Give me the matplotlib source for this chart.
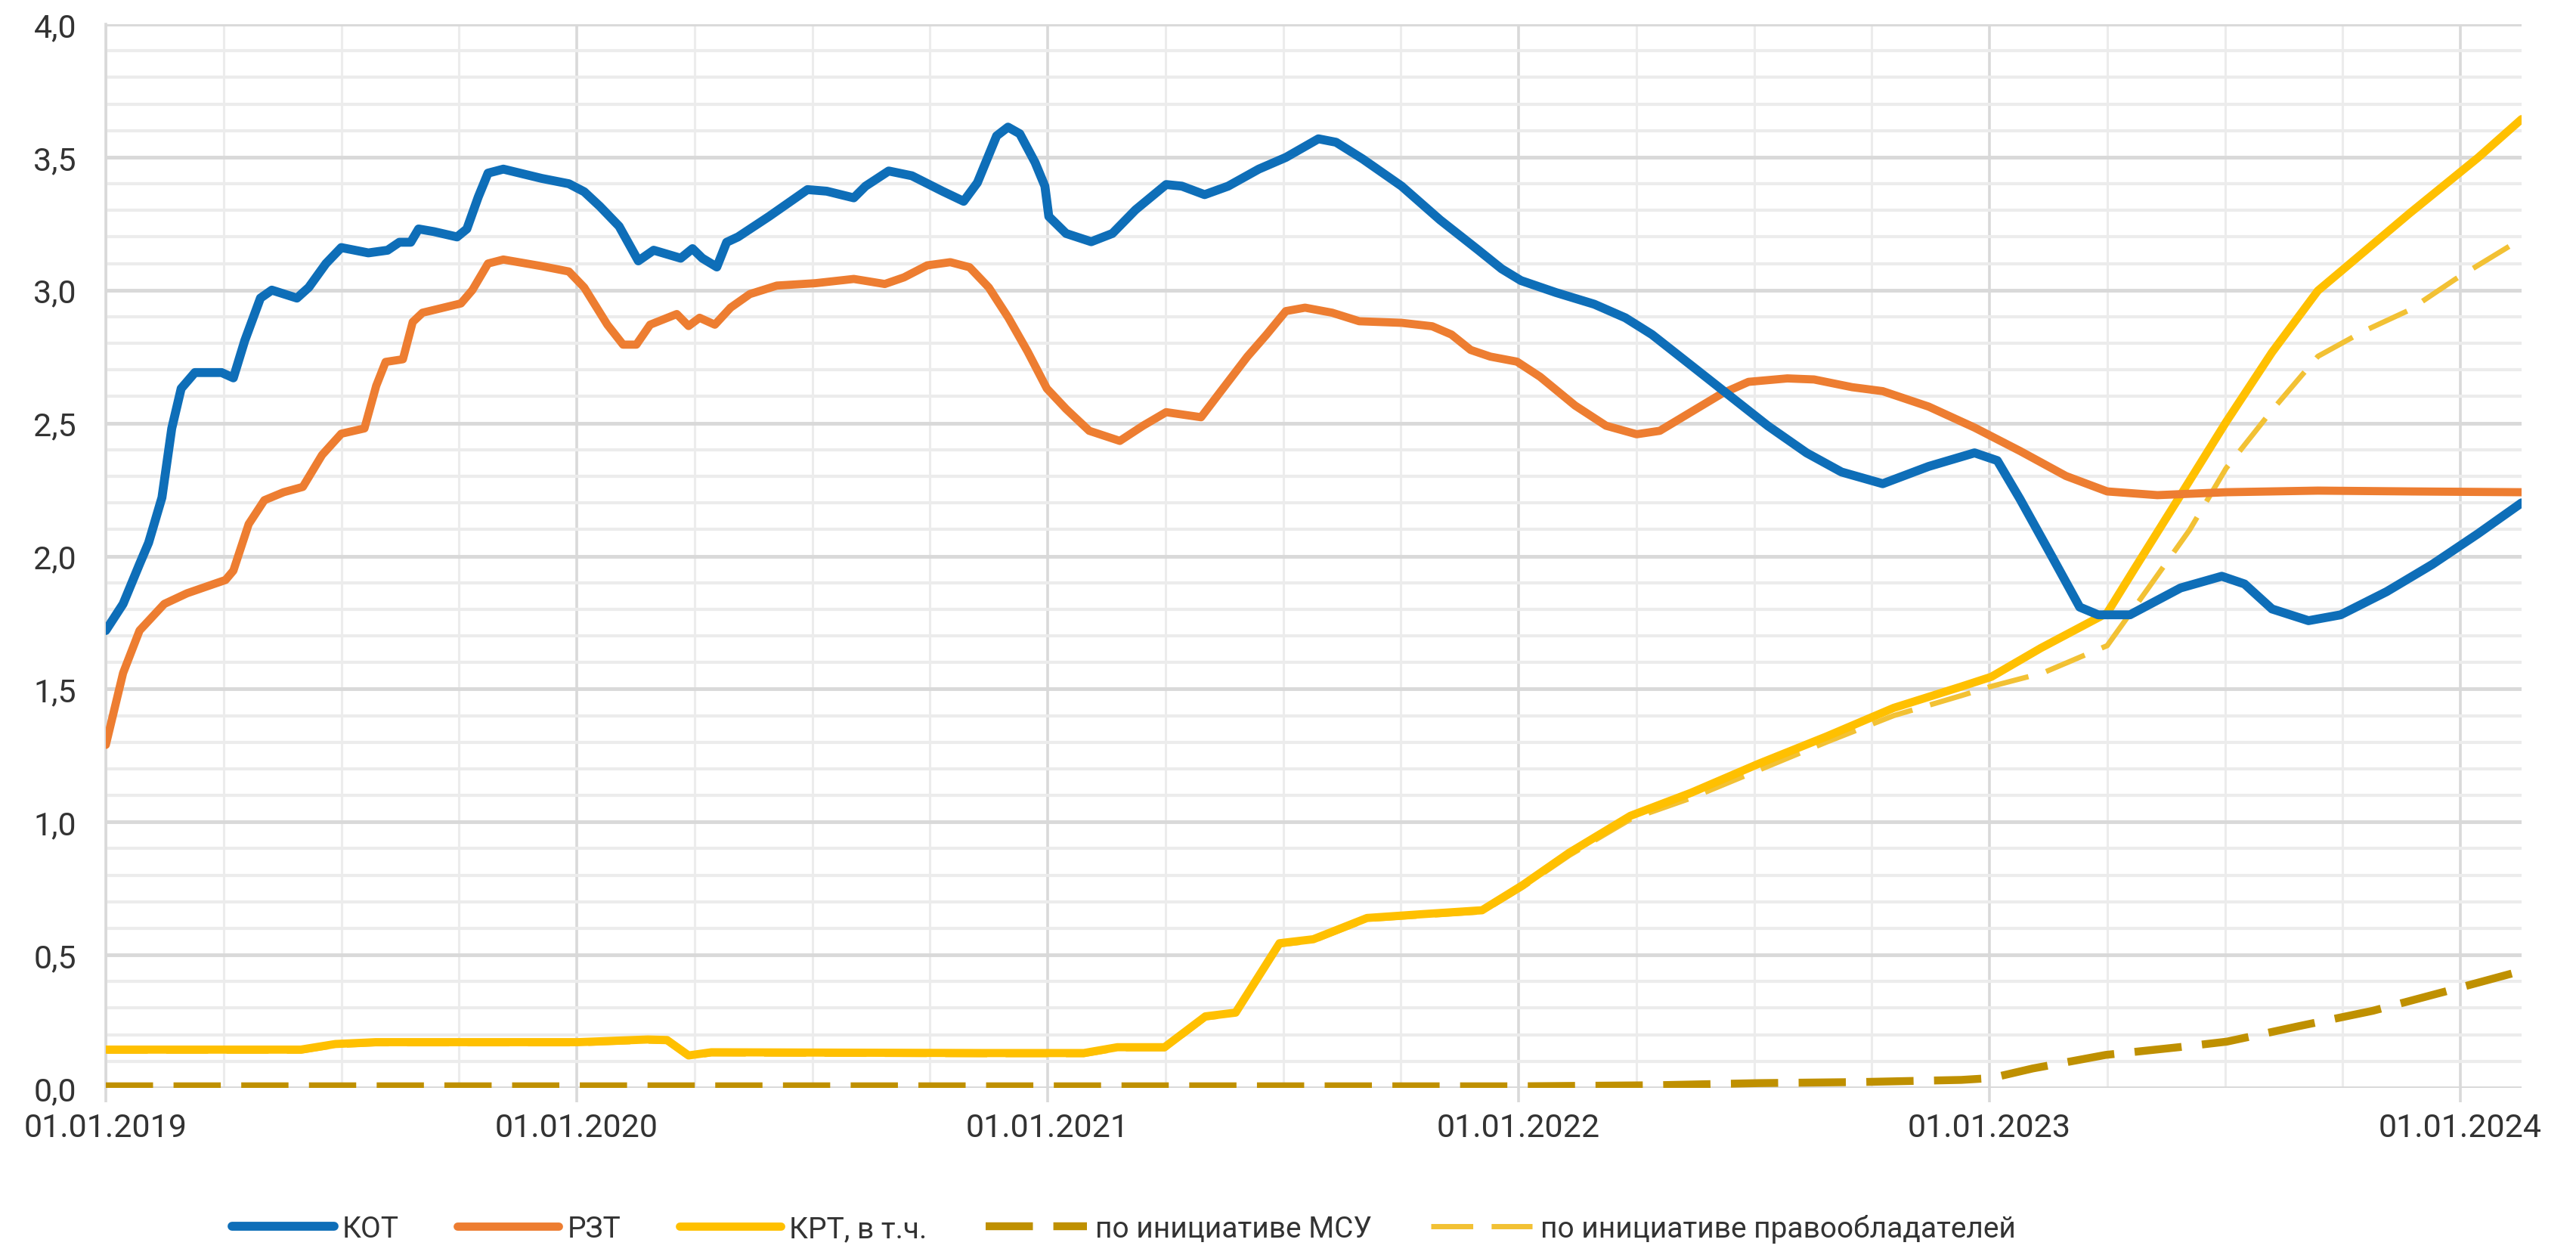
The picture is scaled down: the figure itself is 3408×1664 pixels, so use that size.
import numpy as np
import matplotlib.pyplot as plt
from matplotlib.ticker import FixedLocator, FuncFormatter, MultipleLocator

# months since 01.01.2019 and values
kot_m = [0, 0.44, 0.86, 1.09, 1.43, 1.68, 1.92, 2.27, 2.95, 3.25, 3.54, 3.94, 4.23, 4.87, 5.17,
         5.61, 6.0, 6.69, 7.18, 7.48, 7.77, 7.97, 8.36, 8.95, 9.2, 9.49, 9.74, 10.13, 11.11, 11.8,
         12.19, 12.59, 13.08, 13.57, 13.96, 14.65, 14.95, 15.2, 15.57, 15.82, 16.11, 16.9, 17.88,
         18.37, 19.06, 19.36, 19.95, 20.54, 21.32, 21.86, 22.21, 22.7, 22.99, 23.29, 23.68, 23.93,
         24.03, 24.47, 25.11, 25.65, 26.24, 27.02, 27.42, 28.0, 28.6, 29.38, 30.07, 30.9, 31.35,
         32.03, 33.02, 34.0, 34.98, 35.57, 36.06, 36.95, 37.93, 38.72, 39.4, 40.39, 41.37, 42.35,
         43.34, 44.23, 45.28, 46.45, 47.62, 48.2, 48.78, 49.6, 50.3, 50.77, 51.58, 52.87, 53.92,
         54.5, 55.2, 56.13, 56.95, 58.12, 59.28, 60.45, 61.56]
kot = [1.72, 1.82, 1.97, 2.05, 2.22, 2.48, 2.63, 2.69, 2.69, 2.67, 2.81, 2.97, 3.0, 2.97, 3.01,
       3.10, 3.16, 3.14, 3.15, 3.18, 3.18, 3.23, 3.22, 3.20, 3.23, 3.35, 3.44, 3.455, 3.42, 3.40,
       3.37, 3.315, 3.24, 3.11, 3.15, 3.12, 3.156, 3.12, 3.087, 3.18, 3.20, 3.277, 3.378,
       3.372, 3.347, 3.391, 3.448, 3.43, 3.372, 3.334, 3.404, 3.58, 3.613, 3.588, 3.48, 3.391,
       3.277, 3.213, 3.182, 3.213, 3.302, 3.397, 3.391, 3.359, 3.391, 3.455, 3.499, 3.569, 3.556,
       3.493, 3.391, 3.264, 3.15, 3.08, 3.036, 2.991, 2.947, 2.896, 2.833, 2.718, 2.604, 2.49,
       2.388, 2.316, 2.272, 2.337, 2.388, 2.359, 2.214, 1.996, 1.808, 1.779, 1.779, 1.88, 1.924,
       1.895, 1.801, 1.757, 1.779, 1.866, 1.968, 2.084, 2.20]

rzt_m = [0, 0.44, 0.86, 1.49, 2.07, 3.05, 3.25, 3.64, 4.04, 4.53, 5.02, 5.51, 6.0, 6.59, 6.89,
         7.13, 7.57, 7.82, 8.07, 9.05, 9.34, 9.74, 10.13, 11.11, 11.8, 12.19, 12.78, 13.18, 13.52,
         13.87, 14.55, 14.85, 15.13, 15.52, 15.92, 16.41, 17.1, 18.08, 19.06, 19.85, 20.34, 20.93,
         21.52, 22.01, 22.5, 23.0, 23.49, 23.98, 24.47, 25.06, 25.84, 26.43, 27.02, 27.91, 28.4,
         29.09, 29.58, 30.07, 30.56, 31.25, 31.94, 33.02, 33.8, 34.29, 34.78, 35.28, 35.96, 36.55,
         37.44, 38.23, 39.01, 39.6, 40.39, 41.17, 41.86, 42.85, 43.53, 44.5, 45.28, 46.45, 47.62,
         48.78, 49.95, 51.0, 52.28, 54.03, 56.37, 58.7, 61.56]
rzt = [1.29, 1.56, 1.72, 1.82, 1.86, 1.91, 1.945, 2.12, 2.21, 2.24, 2.26, 2.38, 2.46, 2.48, 2.64,
       2.73, 2.74, 2.88, 2.915, 2.95, 3.0, 3.10, 3.115, 3.09, 3.07, 3.01, 2.87, 2.795, 2.795,
       2.87, 2.91, 2.865, 2.896, 2.87, 2.934, 2.985, 3.017, 3.026, 3.042, 3.023, 3.048, 3.093,
       3.105, 3.086, 3.01, 2.896, 2.769, 2.63, 2.553, 2.471, 2.433, 2.49, 2.541, 2.522, 2.617,
       2.75, 2.833, 2.921, 2.934, 2.915, 2.883, 2.877, 2.864, 2.833, 2.775, 2.75, 2.731, 2.674,
       2.566, 2.49, 2.458, 2.471, 2.541, 2.61, 2.655, 2.668, 2.664, 2.635, 2.62, 2.562, 2.483,
       2.395, 2.301, 2.243, 2.229, 2.24, 2.246, 2.243, 2.24]

krt_m = [0, 4.97, 5.85, 6.88, 12.04, 13.81, 14.3, 14.85, 15.43, 22.34, 24.92, 25.78, 26.98, 28.02,
         28.79, 29.91, 30.77, 32.14, 33.52, 35.07, 36.1, 37.3, 38.85, 40.4, 42.12, 43.84, 45.56,
         47.28, 48.05, 49.31, 51.0, 51.7, 52.87, 54.03, 55.2, 56.37, 56.95, 58.7, 60.45, 61.56]
krt = [0.144, 0.144, 0.165, 0.172, 0.172, 0.182, 0.18, 0.122, 0.134, 0.131, 0.131, 0.153, 0.153,
       0.269, 0.283, 0.544, 0.559, 0.639, 0.653, 0.668, 0.762, 0.885, 1.023, 1.11, 1.219, 1.321,
       1.429, 1.509, 1.546, 1.654, 1.786, 1.953, 2.229, 2.504, 2.766, 2.998, 3.07, 3.288, 3.498,
       3.643]

msu_m = [0, 36.0, 39.54, 42.12, 44.7, 47.28, 48.05, 49.1, 50.96, 52.82, 54.05, 55.91, 57.77,
         59.63, 61.56]
msu = [0.006, 0.006, 0.01, 0.018, 0.022, 0.03, 0.037, 0.073, 0.124, 0.153, 0.174, 0.233, 0.29,
       0.363, 0.44]

pravo_m = [0, 4.97, 5.85, 6.88, 12.04, 13.81, 14.3, 14.85, 15.43, 22.34, 24.92, 25.78, 26.98,
           28.02, 28.79, 29.91, 30.77, 32.14, 33.52, 35.07, 36.1, 37.3, 38.85, 40.4, 42.12, 43.84,
           45.56, 47.28, 48.05, 49.37, 50.42, 51.0, 52.05, 53.1, 54.03, 55.2, 56.37, 57.53, 58.7,
           59.87, 61.56]
pravo = [0.138, 0.138, 0.159, 0.166, 0.166, 0.176, 0.174, 0.116, 0.128, 0.125, 0.125, 0.147,
         0.147, 0.263, 0.277, 0.538, 0.553, 0.633, 0.647, 0.662, 0.754, 0.875, 1.01, 1.09, 1.195,
         1.30, 1.40, 1.475, 1.51, 1.561, 1.627, 1.663, 1.88, 2.098, 2.33, 2.548, 2.751, 2.845,
         2.925, 3.041, 3.193]

year_labels = ['01.01.2019', '01.01.2020', '01.01.2021', '01.01.2022', '01.01.2023', '01.01.2024']

plt.rcParams['font.family'] = ['Roboto', 'DejaVu Sans']

fig = plt.figure(figsize=(34.08, 16.65), dpi=100)
ax = fig.add_axes([140 / 3408, 1 - 1440 / 1665, (3336 - 140) / 3408, (1440 - 33) / 1665])

ax.plot(kot_m, kot, color='#0E6EB8', lw=8.5, solid_joinstyle='round', solid_capstyle='round',
        label='КОТ', zorder=5)
ax.plot(rzt_m, rzt, color='#ED7D31', lw=7.8, solid_joinstyle='round', solid_capstyle='round',
        label='РЗТ', zorder=4)
ax.plot(pravo_m, pravo, color='#F2C134', lw=5.0, dashes=(8, 3.5), dash_capstyle='butt',
        label='по инициативе правообладателей', zorder=2)
ax.plot(krt_m, krt, color='#FFC000', lw=7.8, solid_joinstyle='round', solid_capstyle='round',
        label='КРТ, в т.ч.', zorder=3)
ax.plot(msu_m, msu, color='#BF9000', lw=7.5, dashes=(6, 2.6), dash_capstyle='butt',
        label='по инициативе МСУ', zorder=3)

ax.set_xlim(0, 61.56)
ax.set_ylim(0, 4.0)

ax.xaxis.set_major_locator(FixedLocator([0, 12, 24, 36, 48, 60]))
ax.xaxis.set_minor_locator(FixedLocator([m for m in range(0, 62, 3) if m % 12]))
ax.set_xticklabels(year_labels)
ax.yaxis.set_major_locator(MultipleLocator(0.5))
ax.yaxis.set_minor_locator(MultipleLocator(0.1))
ax.yaxis.set_major_formatter(FuncFormatter(lambda v, _: f'{v:.1f}'.replace('.', ',')))

ax.grid(which='major', axis='y', color='#D9D9D9', lw=3.5)
ax.grid(which='minor', axis='y', color='#ECECEC', lw=3.0)
ax.grid(which='major', axis='x', color='#D9D9D9', lw=2.6)
ax.grid(which='minor', axis='x', color='#ECECEC', lw=2.2)
ax.set_axisbelow(True)

for s in ['top', 'right', 'bottom']:
    ax.spines[s].set_visible(False)
ax.spines['left'].set_color('#D9D9D9')
ax.spines['left'].set_linewidth(2.6)

ax.tick_params(axis='x', which='major', length=14, width=2.6, color='#D9D9D9', pad=9,
               labelsize=31, labelcolor='#333333')
ax.tick_params(axis='x', which='minor', length=0)
ax.tick_params(axis='y', which='both', length=0, pad=28, labelsize=31, labelcolor='#333333')

handles, labels = ax.get_legend_handles_labels()
order = [labels.index(l) for l in ['КОТ', 'РЗТ', 'КРТ, в т.ч.', 'по инициативе МСУ',
                                   'по инициативе правообладателей']]
fig.legend([handles[i] for i in order], [labels[i] for i in order], loc='center',
           bbox_to_anchor=(1487 / 3408, 1 - 1626 / 1665), ncol=5, frameon=False, fontsize=28,
           handlelength=3.45, handletextpad=0.28, columnspacing=2.0, labelcolor='#333333')

fig.savefig('out.png', dpi=100, facecolor='white')
